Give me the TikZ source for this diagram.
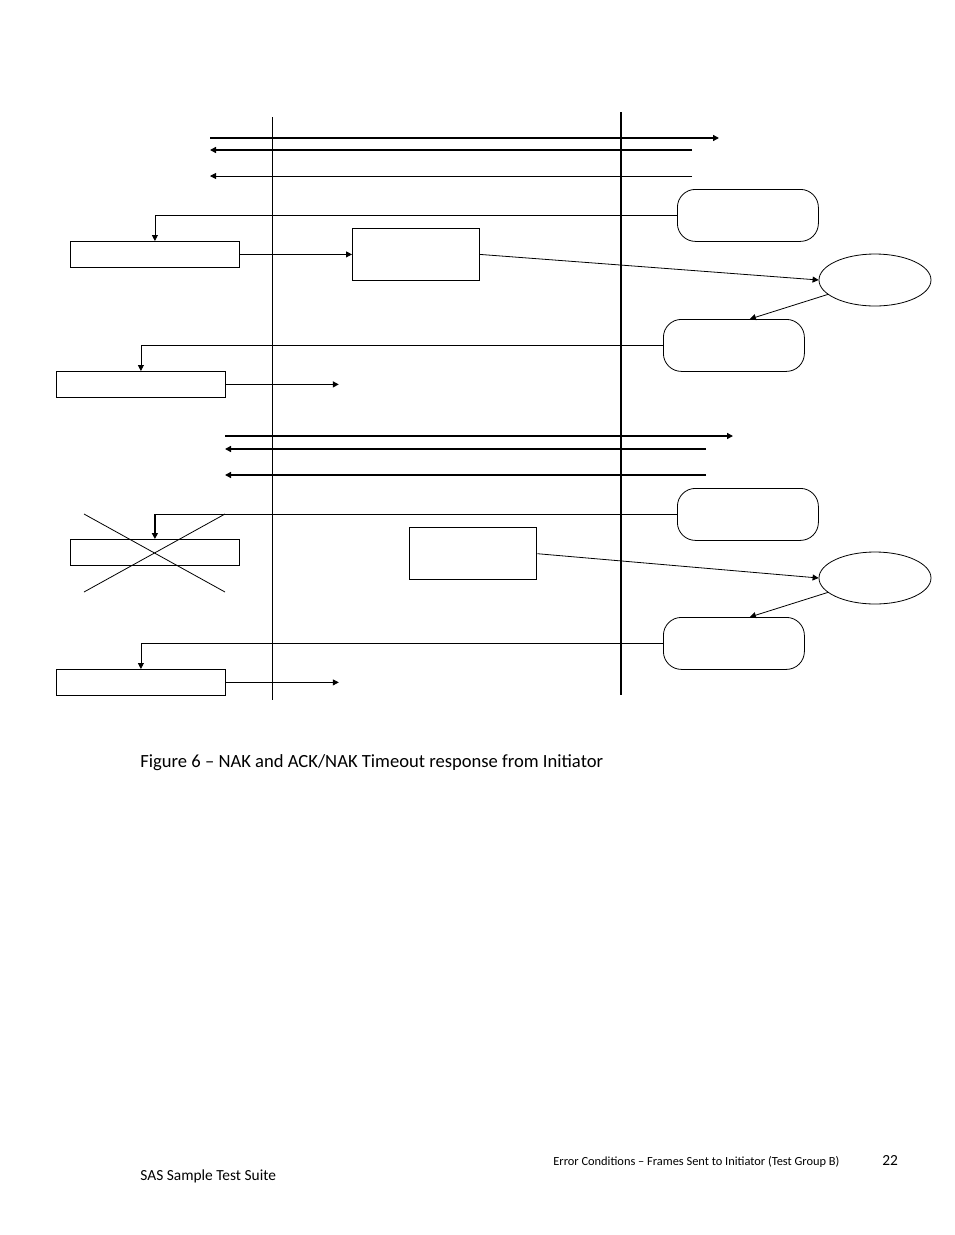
\documentclass[tikz,border=0pt]{standalone}
\usepackage{fontspec}
\setmainfont{Carlito}
\usetikzlibrary{positioning,arrows.meta,shapes.geometric}
\tikzset{
  frame/.style={draw, rectangle, anchor=north west, inner sep=0pt, minimum width=169pt, minimum height=26pt},
  task/.style={draw, rectangle, anchor=north west, inner sep=0pt, minimum width=127pt, minimum height=52pt},
  state/.style={draw, rounded corners=18pt, anchor=north west, inner sep=0pt, minimum width=141pt, minimum height=52pt},
  event/.style={draw, ellipse, inner sep=0pt, minimum width=112pt, minimum height=52pt},
  msg/.style={-{Triangle[length=6pt,width=6pt]}},
  heavy/.style={line width=1.4pt}
}
\begin{document}
\begin{tikzpicture}[x=1pt,y=-1pt,line width=0.8pt]
		\useasboundingbox (0,0) rectangle (954,1235);
		% Life lines
		\draw (272,117) -- (272,700);
		\draw[heavy] (621,112) -- (621,695);
		% First exchange
		\draw[msg,heavy] (210,138) -- (719,138);
		\draw[msg,heavy] (692,150) -- (210,150);
		\draw[msg] (692,176) -- (210,176);
		\node[state] at (677,189) (nak) {};
		\node[frame] at (70,241) (rx1) {};
		\node[task] at (352,228) (chk1) {};
		\node[event] at (875,280) (tmr1) {};
		\node[state] at (663,319) (rsp1) {};
		\node[frame] at (56,371) (tx1) {};
		\draw[msg] (nak.west) -| (rx1.north);
		\draw[msg] (rx1.east) -- (chk1.west);
		\draw[msg] (chk1.east) -- (tmr1.west);
		\draw[msg] (tmr1.197) -- ([xshift=16pt]rsp1.north);
		\draw[msg] (rsp1.west) -| (tx1.north);
		\draw[msg,heavy] (tx1.east) -- ++(113,0) coordinate (out1);
		% Second exchange
		\draw[msg,heavy] (225,436) -- (733,436);
		\draw[msg,heavy] (706,449) -- (225,449);
		\draw[msg,heavy] (706,475) -- (225,475);
		\node[state] at (677,488) (lost) {};
		\node[frame] at (70,539) (rx2) {};
		\node[task,heavy] at (409,527) (chk2) {};
		\node[event] at (875,578) (tmr2) {};
		\node[state] at (663,617) (rsp2) {};
		\node[frame] at (56,669) (tx2) {};
		\draw[msg,heavy] (lost.west) -| (rx2.north);
		\draw (84,514) -- (225,592);
		\draw (84,592) -- (225,514);
		\draw[msg] (chk2.east) -- (tmr2.west);
		\draw[msg] (tmr2.197) -- ([xshift=16pt]rsp2.north);
		\draw[msg] (rsp2.west) -| (tx2.north);
		\draw[msg] (tx2.east) -- ++(113,0) coordinate (out2);
		% Caption and footer
		\node[anchor=west, inner sep=0pt, font=\fontsize{18.6}{22}\selectfont] at (140,763) (cap) {Figure 6 – NAK and ACK/NAK Timeout response from Initiator};
		\node[anchor=west, inner sep=0pt, font=\fontsize{12.4}{14}\selectfont] at (553,1162) (grp) {Error Conditions – Frames Sent to Initiator (Test Group B)};
		\node[anchor=west, inner sep=0pt, font=\fontsize{15.4}{18}\selectfont] at (882,1160) (pg) {22};
		\node[anchor=west, inner sep=0pt, font=\fontsize{15.4}{18}\selectfont] at (140,1176) (suite) {SAS Sample Test Suite};
\end{tikzpicture}
\end{document}
